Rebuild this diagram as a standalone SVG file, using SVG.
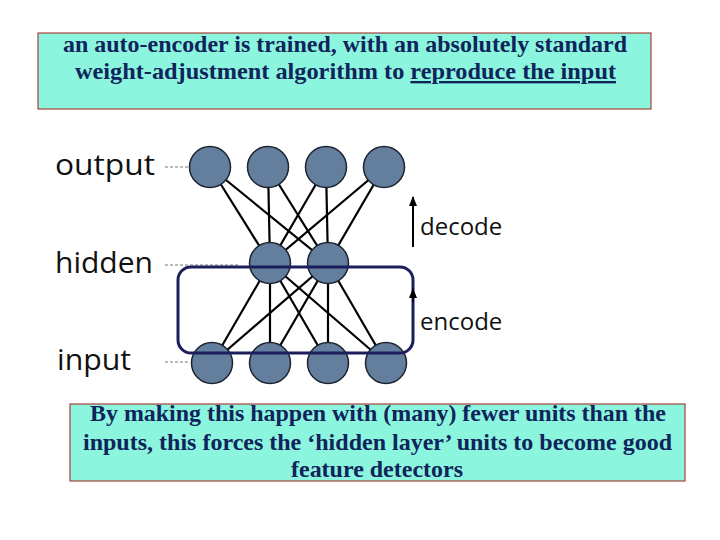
<svg xmlns="http://www.w3.org/2000/svg" width="720" height="540" viewBox="0 0 720 540">
<defs>
<style>
.box{fill:#8cf5de;stroke:#a8423a;stroke-width:1.2}
.bt{font-family:"Liberation Serif","Times New Roman",serif;font-weight:bold;font-size:23.5px;fill:#10245c;text-anchor:middle}
.lbl{font-family:"Open Sans","DejaVu Sans",sans-serif;font-size:30px;fill:#111}
.sm{font-family:"Open Sans","DejaVu Sans",sans-serif;font-size:24px;fill:#111}
.n{fill:#647e9e;stroke:#1d2430;stroke-width:1.5}
.e{stroke:#000;stroke-width:2.2}
.d{stroke:#777;stroke-width:1;stroke-dasharray:3 2}
</style>
<marker id="ah" markerWidth="10" markerHeight="8" refX="9" refY="4" orient="auto" markerUnits="userSpaceOnUse" viewBox="0 0 10 8"><path d="M0,0 L10,4 L0,8 Z" fill="#000"/></marker>
</defs>
<rect width="720" height="540" fill="#fff"/>
<g id="top-box">
<rect class="box" x="38" y="33" width="613" height="76"/>
<text class="bt" x="345" y="52" textLength="564" lengthAdjust="spacingAndGlyphs">an auto-encoder is trained, with an absolutely standard</text>
<text class="bt" x="345.5" y="79" textLength="541" lengthAdjust="spacingAndGlyphs">weight-adjustment algorithm  to <tspan text-decoration="underline">reproduce the input</tspan></text>
</g>
<g id="labels">
<text class="lbl" x="55" y="175" textLength="100" lengthAdjust="spacingAndGlyphs">output</text>
<text class="lbl" x="55" y="273" textLength="98" lengthAdjust="spacingAndGlyphs">hidden</text>
<text class="lbl" x="57" y="370" textLength="74" lengthAdjust="spacingAndGlyphs">input</text>
<line class="d" x1="165" y1="167" x2="190" y2="167"/>
<line class="d" x1="165" y1="265" x2="238" y2="265"/>
<line class="d" x1="165" y1="362" x2="190" y2="362"/>
</g>
<g id="connectors">
<line class="e" x1="210" y1="167" x2="270" y2="263"/><line class="e" x1="210" y1="167" x2="328" y2="263"/>
<line class="e" x1="268" y1="167" x2="270" y2="263"/><line class="e" x1="268" y1="167" x2="328" y2="263"/>
<line class="e" x1="326" y1="167" x2="270" y2="263"/><line class="e" x1="326" y1="167" x2="328" y2="263"/>
<line class="e" x1="384" y1="167" x2="270" y2="263"/><line class="e" x1="384" y1="167" x2="328" y2="263"/>
<line class="e" x1="270" y1="263" x2="212" y2="363"/><line class="e" x1="270" y1="263" x2="270" y2="363"/>
<line class="e" x1="270" y1="263" x2="328" y2="363"/><line class="e" x1="270" y1="263" x2="386" y2="363"/>
<line class="e" x1="328" y1="263" x2="212" y2="363"/><line class="e" x1="328" y1="263" x2="270" y2="363"/>
<line class="e" x1="328" y1="263" x2="328" y2="363"/><line class="e" x1="328" y1="263" x2="386" y2="363"/>
</g>
<g id="output-nodes">
<circle id="o1" class="n" cx="210" cy="167" r="20.5"/>
<circle id="o2" class="n" cx="268" cy="167" r="20.5"/>
<circle id="o3" class="n" cx="326" cy="167" r="20.5"/>
<circle id="o4" class="n" cx="384" cy="167" r="20.5"/>
</g>
<g id="hidden-nodes">
<circle id="h1" class="n" cx="270" cy="263" r="20.5"/>
<circle id="h2" class="n" cx="328" cy="263" r="20.5"/>
</g>
<g id="input-nodes">
<circle id="i1" class="n" cx="212" cy="363" r="20.5"/>
<circle id="i2" class="n" cx="270" cy="363" r="20.5"/>
<circle id="i3" class="n" cx="328" cy="363" r="20.5"/>
<circle id="i4" class="n" cx="386" cy="363" r="20.5"/>
</g>
<g id="encoder-frame">
<rect x="178" y="267" width="235" height="86" rx="13" fill="none" stroke="#1d1f5c" stroke-width="3"/>
</g>
<g id="arrows">
<line x1="413" y1="247" x2="413" y2="197" stroke="#000" stroke-width="2" marker-end="url(#ah)"/>
<text class="sm" x="420" y="235">decode</text>
<line x1="413" y1="302" x2="413" y2="289" stroke="#000" stroke-width="1.5" marker-end="url(#ah)"/>
<text class="sm" x="420" y="330">encode</text>
</g>
<g id="bottom-box">
<rect class="box" x="70" y="404" width="615" height="77"/>
<text class="bt" x="378" y="421" textLength="576" lengthAdjust="spacingAndGlyphs">By making this happen with (many) fewer units than the</text>
<text class="bt" x="377.5" y="450" textLength="589" lengthAdjust="spacingAndGlyphs">inputs, this forces the ‘hidden layer’ units to become good</text>
<text class="bt" x="377" y="477" textLength="172" lengthAdjust="spacingAndGlyphs">feature detectors</text>
</g>
</svg>
